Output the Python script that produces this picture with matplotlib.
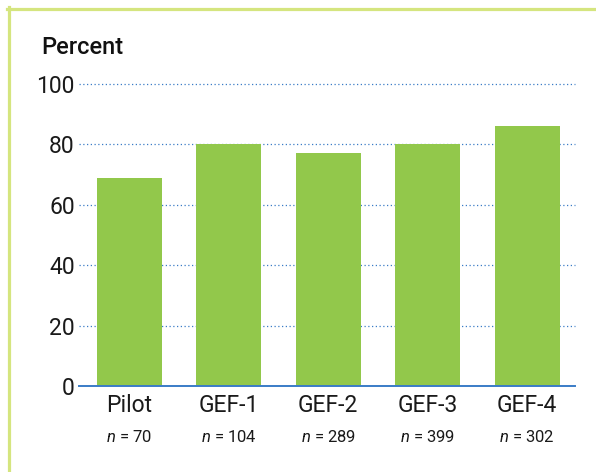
import matplotlib
matplotlib.use("Agg")
import matplotlib.pyplot as plt
from matplotlib.lines import Line2D

grupos = ["Pilot", "GEF-1", "GEF-2", "GEF-3", "GEF-4"]
porcentaje = [69, 80, 77, 80, 86]
n_casos = [70, 104, 289, 399, 302]
ticks_y = [0, 20, 40, 60, 80, 100]

plt.rcParams["font.family"] = ["Roboto", "DejaVu Sans"]
plt.rcParams["mathtext.fontset"] = "custom"
plt.rcParams["mathtext.it"] = "Roboto:italic"
plt.rcParams["mathtext.rm"] = "Roboto"

verde = "#92c84b"
azul = "#3a7cc7"

fig = plt.figure(figsize=(5.96, 4.72), dpi=100)
ax = fig.add_axes([79 / 596, 1 - 386 / 472, 496 / 596, 302 / 472])

x = range(len(grupos))
ax.bar(x, porcentaje, width=0.65, color=verde, zorder=2)
ax.set_xlim(-0.505, 4.48)
ax.set_ylim(0, 100)
ax.set_yticks(ticks_y)
ax.set_xticks(list(x))
ax.set_xticklabels(grupos)
ax.tick_params(axis="both", length=0, labelsize=16.5, colors="#1a1a1a")
ax.tick_params(axis="y", pad=3)
ax.tick_params(axis="x", pad=6)

for v in ticks_y[1:]:
    ax.axhline(v, color=azul, ls=(0, (1, 2)), lw=0.9, zorder=1,
               clip_on=False)
for s in ("top", "right", "left"):
    ax.spines[s].set_visible(False)
ax.spines["bottom"].set_color(azul)
ax.spines["bottom"].set_linewidth(1.4)
ax.spines["bottom"].set_zorder(3)

for i, n in enumerate(n_casos):
    ax.text(i, -0.168, f"$\\mathit{{n}}$ = {n}", transform=ax.get_xaxis_transform(),
            ha="center", va="center", fontsize=12, color="#1a1a1a")

fig.text(41 / 596, 1 - 48 / 472, "Percent", fontsize=17, fontweight="medium",
         ha="left", va="center", color="#111111")

borde = "#d5e57f"
fig.add_artist(Line2D([7 / 596, 1], [1 - 8.5 / 472] * 2, color=borde, lw=2.3))
fig.add_artist(Line2D([8.5 / 596] * 2, [0, 1 - 7 / 472], color=borde, lw=2.3))

fig.savefig("out.png", dpi=100)
